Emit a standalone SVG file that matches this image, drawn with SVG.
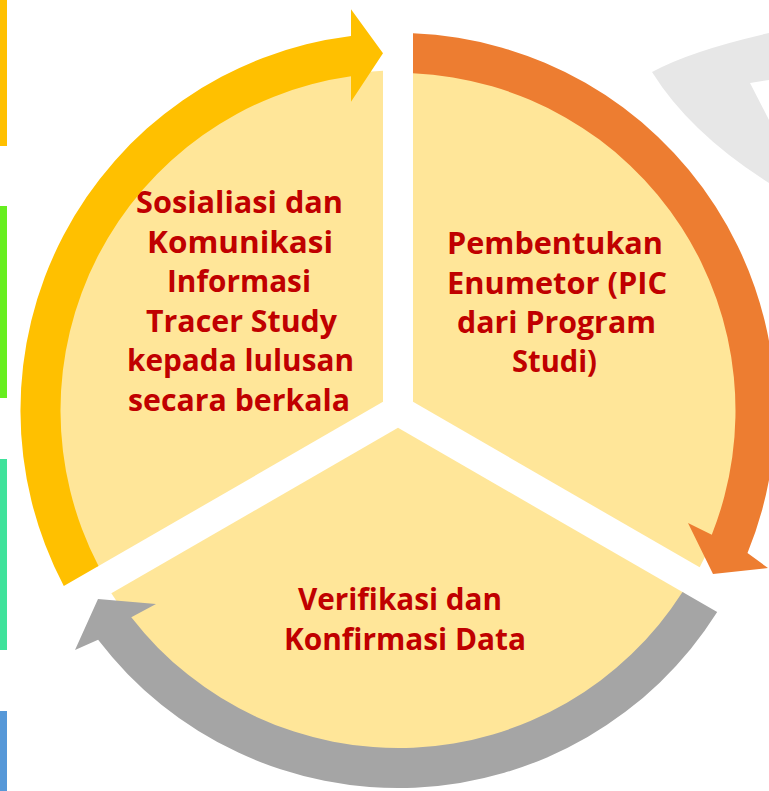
<svg xmlns="http://www.w3.org/2000/svg" width="769" height="791" viewBox="0 0 769 791">
  <style>
    .slice { fill: #FFE699; }
    .lbl { font-family: "Open Sans", "Liberation Sans", sans-serif; font-weight: 700; font-size: 30px; fill: #C00000; text-anchor: middle; }
    .bar { stroke: none; }
  </style>
  <rect width="769" height="791" fill="#FFFFFF"/>
  <!-- left side bars -->
  <rect class="bar" x="0" y="0" width="7" height="146" fill="#FFC000"/>
  <rect class="bar" x="0" y="206" width="7" height="192" fill="#66EE1F"/>
  <rect class="bar" x="0" y="459" width="7" height="191" fill="#3FE29B"/>
  <rect class="bar" x="0" y="711" width="7" height="80" fill="#5698D8"/>
  <!-- faint background shape top right -->
  <path d="M 652 72 Q 690 51 769 33 L 769 80 L 750 83 L 769 120 L 769 183 Q 690 133 652 72 Z" fill="#E7E7E7"/>

  <g id="node-sosialisasi">
    <path class="slice" d="M 383 401.84 L 383 70.83 A 340 340 0 0 0 96.34 567.35 Z"/>
    <text class="lbl" x="239.5" y="213" textLength="207" lengthAdjust="spacingAndGlyphs">Sosialiasi dan</text>
    <text class="lbl" x="240" y="252.5" textLength="186" lengthAdjust="spacingAndGlyphs">Komunikasi</text>
    <text class="lbl" x="239" y="292" textLength="144" lengthAdjust="spacingAndGlyphs">Informasi</text>
    <text class="lbl" x="241.5" y="331.5" textLength="191" lengthAdjust="spacingAndGlyphs">Tracer Study</text>
    <text class="lbl" x="240.5" y="371" textLength="227" lengthAdjust="spacingAndGlyphs">kepada lulusan</text>
    <text class="lbl" x="239" y="410.5" textLength="222" lengthAdjust="spacingAndGlyphs">secara berkala</text>
  </g>

  <g id="node-pembentukan">
    <path class="slice" d="M 413 401.84 L 413 70.83 A 340 340 0 0 1 699.66 567.35 Z"/>
    <text class="lbl" x="555" y="254" textLength="216" lengthAdjust="spacingAndGlyphs">Pembentukan</text>
    <text class="lbl" x="557" y="293.5" textLength="220" lengthAdjust="spacingAndGlyphs">Enumetor (PIC</text>
    <text class="lbl" x="556.5" y="333" textLength="199" lengthAdjust="spacingAndGlyphs">dari Program</text>
    <text class="lbl" x="554.5" y="372" textLength="85" lengthAdjust="spacingAndGlyphs">Studi)</text>
  </g>

  <g id="node-verifikasi">
    <path class="slice" d="M 398 427.82 L 684.66 593.33 A 340 340 0 0 1 111.34 593.33 Z"/>
    <text class="lbl" x="400" y="610" textLength="204" lengthAdjust="spacingAndGlyphs">Verifikasi dan</text>
    <text class="lbl" x="405" y="650" textLength="242" lengthAdjust="spacingAndGlyphs">Konfirmasi Data</text>
  </g>

  <g id="connectors">
    <path id="arrow-yellow" fill="#FFC000" d="M 63.8 586.1 A 377.5 377.5 0 0 1 351 35.9 L 351 9.3 L 383 53.3 L 351 101.7 L 351 76.3 A 337.5 337.5 0 0 0 98.5 566.1 Z"/>
    <path id="arrow-orange" fill="#ED7D31" d="M 413 73.3 L 413 33.3 A 377.5 377.5 0 0 1 747.5 553.1 L 768 568 L 713 574 L 688 523 L 711.8 534.7 A 337.5 337.5 0 0 0 413 73.3 Z"/>
    <path id="arrow-gray" fill="#A5A5A5" d="M 717.2 612.1 A 377.5 377.5 0 0 1 98.1 639.8 L 75 650 L 98 599 L 156 604 L 131.3 617.3 A 337.5 337.5 0 0 0 682.5 592.1 Z"/>
  </g>
</svg>
